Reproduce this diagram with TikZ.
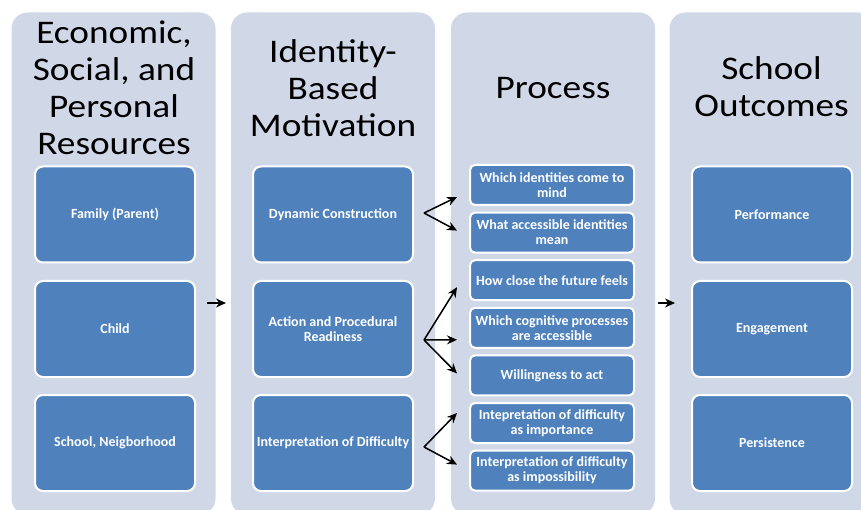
\documentclass[tikz,border=0pt]{standalone}
\usepackage{fontspec}
\setmainfont{Carlito}
\newfontfamily\headfont{Carlito}[FakeStretch=1.13]
\usetikzlibrary{arrows.meta, positioning, calc}
\definecolor{columncolor}{RGB}{208, 216, 232}
\definecolor{itemcolor}{RGB}{79, 129, 189}

\begin{document}
\begin{tikzpicture}[x=1pt, y=-1pt,
    column/.style={fill=columncolor, rounded corners=16pt, minimum width=204pt, minimum height=502pt, inner sep=0pt},
    heading/.style={font=\headfont\fontsize{33}{37}\selectfont, align=center, text=black},
    item/.style={draw=white, line width=2pt, fill=itemcolor, rounded corners=8pt, minimum width=160pt, minimum height=96pt, text=white, font=\fontsize{14}{15}\selectfont\bfseries, align=center},
    subitem/.style={item, rounded corners=5pt, minimum width=164pt, minimum height=40pt},
    link/.style={-{Stealth[length=10pt, width=9pt]}, line width=1.5pt}]
    \useasboundingbox (0, 0) rectangle (861, 510);

    % Columns
    \node[column] (col1) at (113.5, 263.5) {};
    \node[column] (col2) at (333, 263.5) {};
    \node[column] (col3) at (553, 263.5) {};
    \node[column] (col4) at (771.5, 263.5) {};

    % Headings
    \node[heading] (head1) at (114, 88) {Economic,\\Social, and\\Personal\\Resources};
    \node[heading] (head2) at (333, 88) {Identity-\\Based\\Motivation};
    \node[heading] (head3) at (553, 88) {Process};
    \node[heading] (head4) at (771.5, 87) {School\\Outcomes};

    % Resources
    \node[item] (family) at (115, 214.5) {Family (Parent)};
    \node[item] (child) at (115, 329) {Child};
    \node[item] (school) at (115, 443) {School, Neigborhood};

    % Identity-based motivation
    \node[item] (dyn) at (333, 214.5) {Dynamic Construction};
    \node[item] (act) at (333, 329) {Action and Procedural\\Readiness};
    \node[item] (interp) at (333, 443) {Interpretation of Difficulty};

    % Process
    \node[subitem] (p1) at (552, 185) {Which identities come to\\mind};
    \node[subitem] (p2) at (552, 232.6) {What accessible identities\\mean};
    \node[subitem] (p3) at (552, 280.2) {How close the future feels};
    \node[subitem] (p4) at (552, 327.8) {Which cognitive processes\\are accessible};
    \node[subitem] (p5) at (552, 375.4) {Willingness to act};
    \node[subitem] (p6) at (552, 423) {Intepretation of difficulty\\as importance};
    \node[subitem] (p7) at (552, 470.6) {Interpretation of difficulty\\as impossibility};

    % School outcomes
    \node[item] (perf) at (772, 214.5) {Performance};
    \node[item] (engage) at (772, 329) {Engagement};
    \node[item] (persist) at (772, 443) {Persistence};

    % Arrows between columns
    \coordinate (a1s) at (207, 303);
    \coordinate (a1e) at (226, 303);
    \draw[link] (a1s) -- (a1e);
    \coordinate (a3s) at (658, 303);
    \coordinate (a3e) at (675, 303);
    \draw[link] (a3s) -- (a3e);

    % Fans into the process boxes
    \coordinate (f1) at ([xshift=10pt, yshift=1.5pt]dyn.east);
    \draw[link] (f1) -- ([xshift=-12pt, yshift=-12pt]p1.west);
    \draw[link] (f1) -- ([xshift=-12pt, yshift=2pt]p2.west);

    \coordinate (f2) at ([xshift=10pt, yshift=-11pt]act.east);
    \draw[link] (f2) -- ([xshift=-12pt, yshift=-7pt]p3.west);
    \draw[link] (f2) -- ([xshift=-12pt, yshift=-12pt]p4.west);
    \draw[link] (f2) -- ([xshift=-12pt, yshift=2pt]p5.west);

    \coordinate (f3) at ([xshift=10pt, yshift=-4pt]interp.east);
    \draw[link] (f3) -- ([xshift=-12pt, yshift=10pt]p6.west);
    \draw[link] (f3) -- ([xshift=-12pt, yshift=6pt]p7.west);

\end{tikzpicture}
\end{document}
